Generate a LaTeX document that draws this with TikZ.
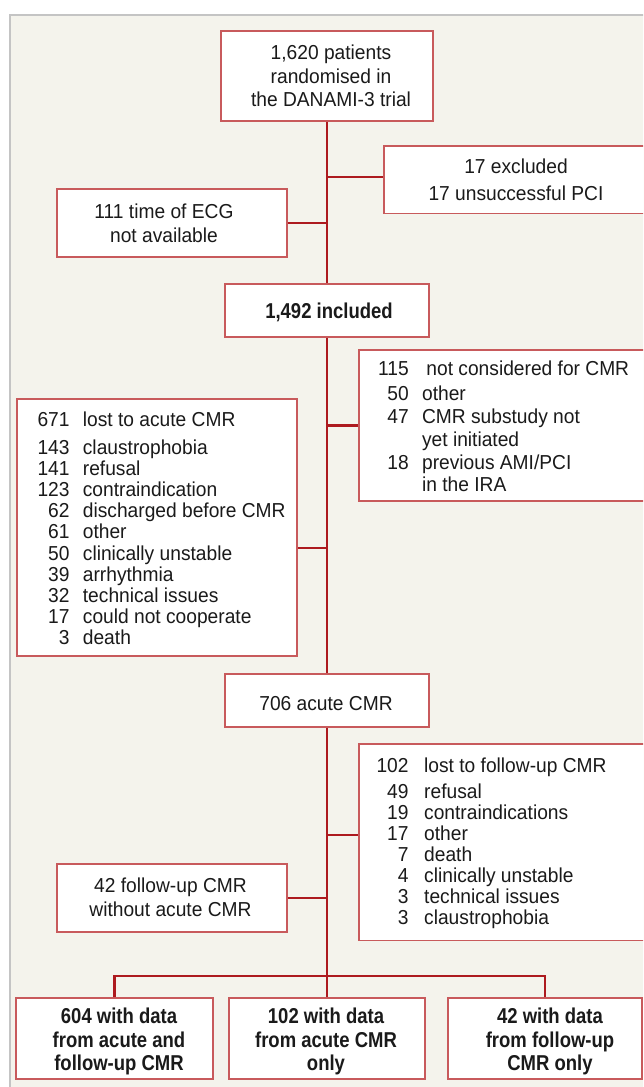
\documentclass[tikz,border=0pt]{standalone}
\usepackage{fontspec}
\setmainfont{Liberation Sans}[FakeStretch=0.95]
\newfontfamily\condbold{Liberation Sans}[FakeStretch=0.86]
\definecolor{bgbeige}{HTML}{F4F3EC}
\definecolor{framegray}{HTML}{C4C4C4}
\definecolor{boxred}{HTML}{C85A5C}
\definecolor{linered}{HTML}{AD1A1F}
\definecolor{ink}{HTML}{1A1A1A}
\newcommand{\mltext}[2]{\begin{tabular}[t]{@{}#1@{}}#2\end{tabular}}
\tikzset{
  box/.style={draw=boxred, line width=1.8pt, fill=white, inner sep=0pt},
  conn/.style={draw=linered, line width=2.7pt},
  txt/.style={inner sep=0pt, anchor=base, text=ink},
  lst/.style={inner sep=0pt, anchor=base west, text=ink},
}
\begin{document}
\begin{tikzpicture}[x=1pt,y=-1pt]
\useasboundingbox (0,0) rectangle (643,1087);
\clip (0,0) rectangle (643,1087);
\draw[draw=framegray, fill=bgbeige, line width=1.6pt] (10,15) rectangle (700,1120);

% boxes
\node[box, minimum width=212pt, minimum height=90pt] (top) at (327,76) {};
\node[box, minimum width=276pt, minimum height=67.5pt] (excl) at (522,179.75) {};
\node[box, minimum width=230pt, minimum height=68pt] (ecg) at (172,223) {};
\node[box, minimum width=204pt, minimum height=53pt] (incl) at (327,310.5) {};
\node[box, minimum width=301pt, minimum height=151pt] (notc) at (509.5,425.5) {};
\node[box, minimum width=280.6pt, minimum height=257pt] (lost) at (157,527.5) {};
\node[box, minimum width=204pt, minimum height=53pt] (acute) at (327,700.5) {};
\node[box, minimum width=301pt, minimum height=196.5pt] (lostf) at (509.5,842.25) {};
\node[box, minimum width=230pt, minimum height=68pt] (fu) at (172,898) {};
\node[box, minimum width=197pt, minimum height=81pt] (b1) at (114.5,1038.5) {};
\node[box, minimum width=196pt, minimum height=81pt] (b2) at (327,1038.5) {};
\node[box, minimum width=194pt, minimum height=81pt] (b3) at (545,1038.5) {};

% connectors
\coordinate (jexcl) at (327,177);
\coordinate (jlost) at (327,548);
\coordinate (jlostf) at (327,835);
\coordinate (split) at (327,976);
\draw[conn] (top.south) -- (incl.north);
\draw[conn] (jexcl) -- (jexcl -| excl.west);
\draw[conn] (ecg.east) -- (ecg.east -| top.south);
\draw[conn] (incl.south) -- (acute.north);
\draw[conn] (notc.west) -- (notc.west -| incl.south);
\draw[conn] (jlost) -- (jlost -| lost.east);
\draw[conn] (acute.south) -- (b2.north);
\draw[conn] (jlostf) -- (jlostf -| lostf.west);
\draw[conn] (fu.east) -- (fu.east -| acute.south);
\draw[conn] (b1.north) |- (split) -| (b3.north);

% texts
\node[txt, font=\fontsize{20.2}{23.7}\selectfont] (ttop) at (331,59.3)
  {\mltext{c}{1,620 patients\\randomised in\\the DANAMI-3 trial}};
\node[txt, font=\fontsize{20.2}{26.7}\selectfont] (texcl) at (516,173.3)
  {\mltext{c}{17 excluded\\17 unsuccessful PCI}};
\node[txt, font=\fontsize{20.2}{24}\selectfont] (tecg) at (164,218.3)
  {\mltext{c}{111 time of ECG\\not available}};
\node[txt, font=\condbold\bfseries\fontsize{21.5}{23.7}\selectfont] (tincl) at (329,318.3)
  {1,492 included};
\node[txt, font=\fontsize{20.2}{23.7}\selectfont] (tacute) at (326,710)
  {706 acute CMR};
\node[txt, font=\fontsize{20.2}{23.3}\selectfont] (tfu) at (170.5,892.7)
  {\mltext{c}{42 follow-up CMR\\without acute CMR}};
\node[txt, font=\condbold\bfseries\fontsize{21.5}{23.7}\selectfont] (tb1) at (119,1023.3)
  {\mltext{c}{604 with data\\from acute and\\follow-up CMR}};
\node[txt, font=\condbold\bfseries\fontsize{21.5}{23.7}\selectfont] (tb2) at (326,1023.3)
  {\mltext{c}{102 with data\\from acute CMR\\only}};
\node[txt, font=\condbold\bfseries\fontsize{21.5}{23.7}\selectfont] (tb3) at (550,1023.3)
  {\mltext{c}{42 with data\\from follow-up\\CMR only}};

% lists
\node[lst, font=\fontsize{20.2}{21.2}\selectfont] (tlost) at (37.3,426.7)
  {\begin{tabular}[t]{@{}r@{\hspace{13.4pt}}l@{}}
   671 & lost to acute CMR\\[6.1pt]
   143 & claustrophobia\\
   141 & refusal\\
   123 & contraindication\\
   62 & discharged before CMR\\
   61 & other\\
   50 & clinically unstable\\
   39 & arrhythmia\\
   32 & technical issues\\
   17 & could not cooperate\\
   3 & death
   \end{tabular}};
\node[lst, font=\fontsize{20.2}{22.8}\selectfont] (tnotc) at (378,375)
  {\begin{tabular}[t]{@{}r@{\hspace{13.3pt}}l@{}}
   115 & \hspace{4.4pt}not considered for CMR\\[2.9pt]
   50 & other\\
   47 & CMR substudy not\\
      & yet initiated\\
   18 & previous AMI/PCI\\
      & in the IRA
   \end{tabular}};
\node[lst, font=\fontsize{20.2}{21.1}\selectfont] (tlostf) at (376.3,772.7)
  {\begin{tabular}[t]{@{}r@{\hspace{15.7pt}}l@{}}
   102 & lost to follow-up CMR\\[4.5pt]
   49 & refusal\\
   19 & contraindications\\
   17 & other\\
   7 & death\\
   4 & clinically unstable\\
   3 & technical issues\\
   3 & claustrophobia
   \end{tabular}};
\end{tikzpicture}
\end{document}
